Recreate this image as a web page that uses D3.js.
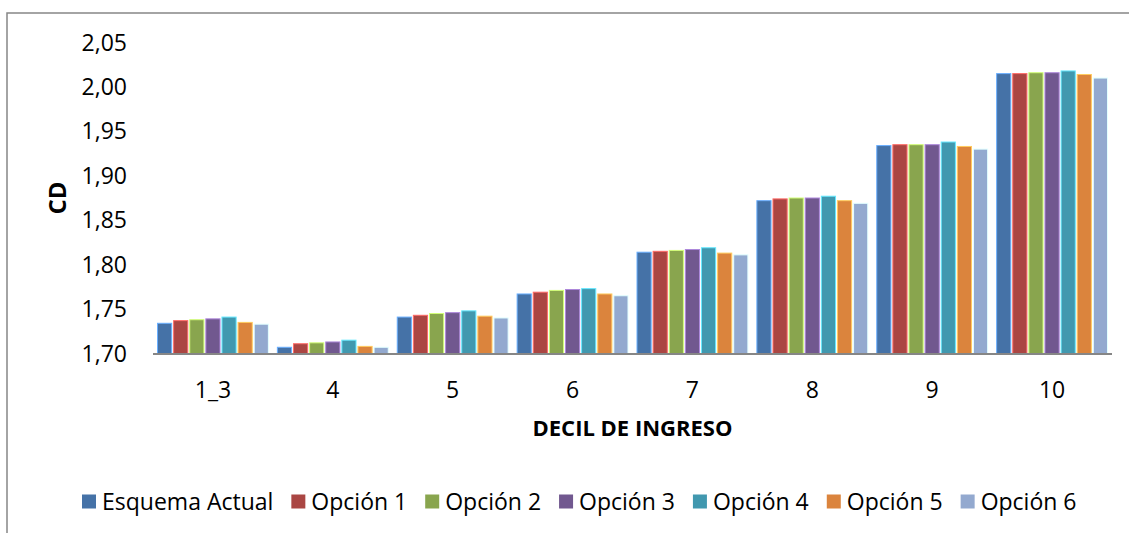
<!DOCTYPE html>
<html>
<head>
<meta charset="utf-8">
<script src="https://cdn.jsdelivr.net/npm/d3@7"></script>
<style>
	body { margin: 0; background: #fff; }
	text { font-family: "Open Sans", sans-serif; fill: #000; }
</style>
</head>
<body>
<div id="chart"></div>
<script>
// categories (income decile)
var deciles = ["1_3", "4", "5", "6", "7", "8", "9", "10"];

// series names
var seriesNames = ["Esquema Actual", "Opción 1", "Opción 2", "Opción 3", "Opción 4", "Opción 5", "Opción 6"];

// values per series, one per decile
var esquemaActual = [1.734, 1.707, 1.741, 1.767, 1.814, 1.872, 1.934, 2.015];
var opcion1       = [1.737, 1.711, 1.743, 1.769, 1.815, 1.874, 1.935, 2.015];
var opcion2       = [1.738, 1.712, 1.745, 1.771, 1.816, 1.875, 1.935, 2.016];
var opcion3       = [1.739, 1.713, 1.746, 1.772, 1.817, 1.875, 1.935, 2.016];
var opcion4       = [1.741, 1.715, 1.748, 1.773, 1.819, 1.877, 1.938, 2.018];
var opcion5       = [1.735, 1.708, 1.742, 1.767, 1.813, 1.872, 1.933, 2.014];
var opcion6       = [1.733, 1.707, 1.740, 1.765, 1.811, 1.869, 1.930, 2.010];

// y axis ticks
var yTicks = [1.70, 1.75, 1.80, 1.85, 1.90, 1.95, 2.00, 2.05];

var colors = ["#4572A7", "#AA4643", "#89A54E", "#71588F", "#4198AF", "#DB843D", "#93A9CF"];

var seriesValues = [esquemaActual, opcion1, opcion2, opcion3, opcion4, opcion5, opcion6];

var _width = 1129,
	_height = 533;

var plot = { left: 153, right: 1112, top: 42.5, bottom: 353.5 };

var svg = d3.select("#chart").append("svg")
	.attr("width", _width)
	.attr("height", _height);

// outer frame
svg.append("rect")
	.attr("x", 7)
	.attr("y", 13)
	.attr("width", 1140)
	.attr("height", 540)
	.attr("fill", "none")
	.attr("stroke", "#878787")
	.attr("stroke-width", 1.5);

var x0 = d3.scaleBand()
	.domain(deciles)
	.range([plot.left, plot.right]);

var x1 = d3.scaleBand()
	.domain(seriesNames)
	.range([4.5, x0.bandwidth() - 4.5])
	.paddingInner(0.12);

var y = d3.scaleLinear()
	.domain([1.70, 2.05])
	.range([plot.bottom, plot.top]);

var locale = d3.formatLocale({ decimal: ",", thousands: ".", grouping: [3], currency: ["", ""] });
var fmt = locale.format(".2f");

// y tick labels
svg.selectAll("text.ytick")
	.data(yTicks)
	.enter()
	.append("text")
	.attr("class", "ytick")
	.attr("x", 127)
	.attr("y", function(d) { return y(d); })
	.attr("dy", "0.35em")
	.attr("text-anchor", "end")
	.style("font-size", "23px")
	.text(function(d) { return fmt(d); });

// bars
var groups = svg.selectAll("g.decil")
	.data(deciles)
	.enter()
	.append("g")
	.attr("class", "decil")
	.attr("transform", function(d) { return "translate(" + x0(d) + ",0)"; });

groups.selectAll("rect")
	.data(function(d, i) {
		return seriesNames.map(function(s, j) {
			return { serie: s, value: seriesValues[j][i], color: colors[j] };
		});
	})
	.enter()
	.append("rect")
	.attr("x", function(d) { return x1(d.serie); })
	.attr("y", function(d) { return y(d.value); })
	.attr("width", x1.bandwidth())
	.attr("height", function(d) { return y(1.70) - y(d.value); })
	.attr("fill", function(d) { return d.color; })
	.attr("stroke", function(d) { return d3.color(d.color).brighter(1.2); })
	.attr("stroke-width", 1);

// x axis line
svg.append("line")
	.attr("x1", plot.left)
	.attr("x2", plot.right)
	.attr("y1", plot.bottom + 0.5)
	.attr("y2", plot.bottom + 0.5)
	.attr("stroke", "#868686")
	.attr("stroke-width", 2);

// x tick labels
svg.selectAll("text.xtick")
	.data(deciles)
	.enter()
	.append("text")
	.attr("class", "xtick")
	.attr("x", function(d) { return x0(d) + x0.bandwidth() / 2; })
	.attr("y", 390)
	.attr("dy", "0.35em")
	.attr("text-anchor", "middle")
	.style("font-size", "23px")
	.text(function(d) { return d; });

// axis titles
svg.append("text")
	.attr("x", (plot.left + plot.right) / 2)
	.attr("y", 428.5)
	.attr("dy", "0.35em")
	.attr("text-anchor", "middle")
	.style("font-size", "22px")
	.style("font-weight", "bold")
	.text("DECIL DE INGRESO");

svg.append("text")
	.attr("transform", "translate(57.5," + ((plot.top + plot.bottom) / 2) + ") rotate(-90)")
	.attr("dy", "0.35em")
	.attr("text-anchor", "middle")
	.style("font-size", "24px")
	.style("font-weight", "bold")
	.text("CD");

// legend
var legend = svg.append("g").attr("class", "legend");
var lx = 82,
	ly = 501.5;

seriesNames.forEach(function(name, i) {
	legend.append("rect")
		.attr("x", lx)
		.attr("y", ly - 7)
		.attr("width", 14)
		.attr("height", 14)
		.attr("fill", colors[i]);

	var t = legend.append("text")
		.attr("x", lx + 20)
		.attr("y", ly)
		.attr("dy", "0.35em")
		.style("font-size", "23px")
		.text(name);

	lx += 20 + t.node().getComputedTextLength() + 18;
});
</script>
</body>
</html>
